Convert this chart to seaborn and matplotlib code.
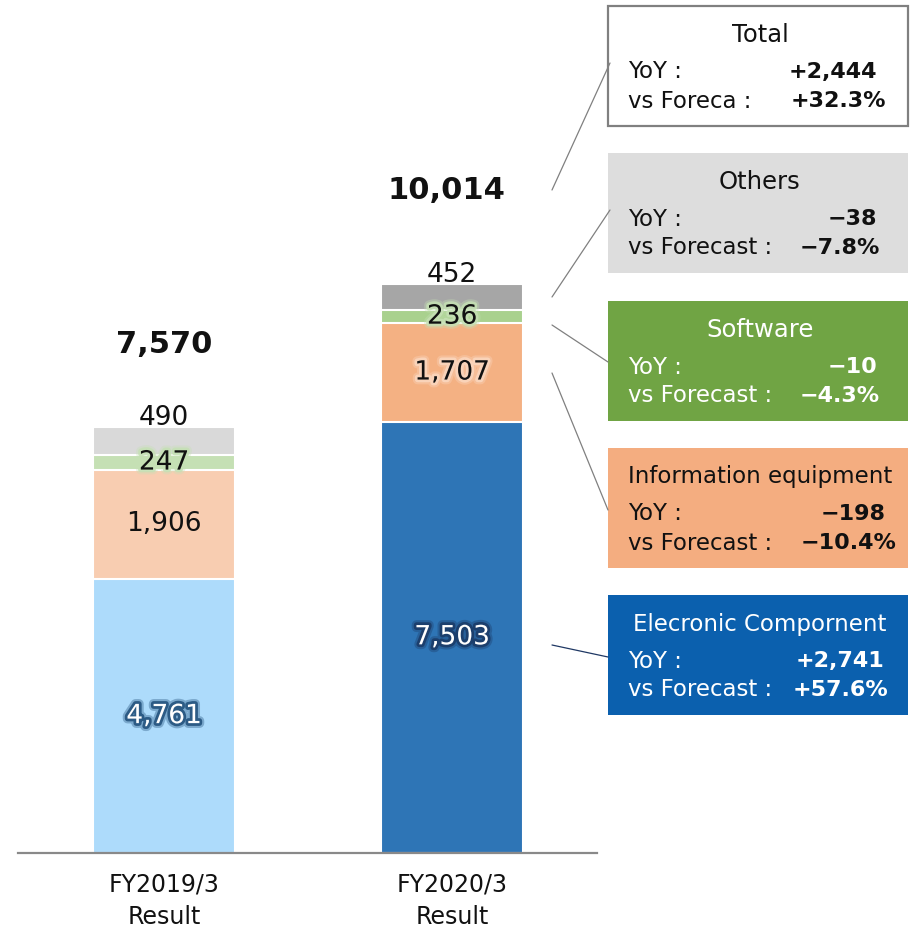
import matplotlib
matplotlib.use("Agg")
import numpy as np
import pandas as pd
import seaborn as sns
import matplotlib.pyplot as plt
from matplotlib import patheffects as pe
from matplotlib.patches import Rectangle

# ---------------- data ----------------
categories = ["FY2019/3\nResult", "FY2020/3\nResult"]
electronic = [4761, 7503]
info_equipment = [1906, 1707]
software = [247, 236]
others = [490, 452]
totals = [7570, 10014]

box_titles = ["Total", "Others", "Software", "Information equipment", "Elecronic Compornent"]
box_yoy = ["+2,444", "\u221238", "\u221210", "\u2212198", "+2,741"]
box_fc_label = ["vs Foreca :", "vs Forecast :", "vs Forecast :", "vs Forecast :", "vs Forecast :"]
box_fc = ["+32.3%", "\u22127.8%", "\u22124.3%", "\u221210.4%", "+57.6%"]

# ---------------- style ----------------
sns.set_theme(style="white")
plt.rcParams["font.family"] = ["DejaVu Sans"]

seg_names = ["Electronic", "Info", "Software", "Others"]
seg_values = [electronic, info_equipment, software, others]
seg_colors = [["#ADDBFB", "#2E75B6"],
              ["#F8CDB1", "#F4B183"],
              ["#C5E0B4", "#A9D18E"],
              ["#D9D9D9", "#A6A6A6"]]
cum = np.cumsum(np.array(seg_values), axis=0)

fig = plt.figure(figsize=(9.1, 9.32), dpi=100)
ax = fig.add_axes([18 / 910, 79 / 932, 579 / 910, 853 / 932])

for k in reversed(range(len(seg_names))):
    df = pd.DataFrame({"cat": categories, "val": cum[k]})
    sns.barplot(data=df, x="cat", y="val", hue="cat", palette=seg_colors[k],
                width=0.493, edgecolor="white", linewidth=1.5, saturation=1,
                legend=False, ax=ax, zorder=2)

ax.set_xlim(-0.507, 1.503)
ax.set_ylim(0, 14835)
for s in ["left", "top", "right"]:
    ax.spines[s].set_visible(False)
ax.spines["bottom"].set_color("#898989")
ax.spines["bottom"].set_linewidth(1.6)
ax.spines["bottom"].set_zorder(5)
ax.set_yticks([])
ax.set_xlabel("")
ax.set_ylabel("")
ax.tick_params(axis="x", length=0, pad=14, labelsize=17, colors="#111111")
for lab in ax.get_xticklabels():
    lab.set_linespacing(1.45)
ax.patch.set_alpha(0)

PX = 72 / 100  # points per pixel


def glow(color):
    return [pe.withStroke(linewidth=7, foreground=color, alpha=0.35),
            pe.withStroke(linewidth=4, foreground=color, alpha=0.85)]


glow_ec = [glow("#1F4E79"), glow("#1B3A66")]
glow_ie = [None, glow("#FAD7C0")]
glow_sw = [glow("#C5E0B4"), glow("#C5E0B4")]
total_offset_px = [83, 93]

for i in range(len(categories)):
    ax.text(i, electronic[i] / 2, f"{electronic[i]:,}", ha="center", va="center",
            fontsize=19, color="white", path_effects=glow_ec[i], zorder=6)
    ax.text(i, cum[0][i] + info_equipment[i] / 2, f"{info_equipment[i]:,}", ha="center",
            va="center", fontsize=19, color="#111111",
            path_effects=glow_ie[i], zorder=6)
    ax.text(i, cum[1][i] + software[i] / 2, f"{software[i]:,}", ha="center", va="center",
            fontsize=19, color="#111111", path_effects=glow_sw[i], zorder=6)
    ax.annotate(f"{others[i]:,}", (i, cum[3][i]), xytext=(0, 9 * PX), textcoords="offset points",
                ha="center", va="center", fontsize=19, color="#111111", zorder=6)
    ax.annotate(f"{totals[i]:,}", (i, cum[3][i]), xytext=(-4 * i, total_offset_px[i] * PX),
                textcoords="offset points", ha="center", va="center", fontsize=22,
                fontweight="bold", color="#111111", zorder=6)

# ---------------- callout boxes (figure pixel overlay) ----------------
ov = fig.add_axes([0, 0, 1, 1], zorder=10)
ov.set_xlim(0, 910)
ov.set_ylim(932, 0)
ov.axis("off")
ov.patch.set_alpha(0)

box_tops = [6, 153, 301, 448, 595]
box_face = ["white", "#DDDDDD", "#70A444", "#F4AD80", "#0B60AE"]
box_edge = ["#808080", "none", "none", "none", "none"]
box_text = ["#111111", "#111111", "white", "#111111", "white"]
title_size = [17.5, 17.5, 17.5, 16.5, 16.5]
yoy_right = [877, 877, 877, 886, 884]
fc_right = [886, 880, 880, 897, 888]

for b in range(5):
    t = box_tops[b]
    ov.add_patch(Rectangle((608, t), 300, 120, facecolor=box_face[b],
                           edgecolor=box_edge[b], linewidth=1.6))
    c = box_text[b]
    ov.text(760, t + 29, box_titles[b], ha="center", va="center", fontsize=title_size[b], color=c)
    ov.text(628, t + 66, "YoY :", ha="left", va="center", fontsize=16.5, color=c)
    ov.text(628, t + 95, box_fc_label[b], ha="left", va="center", fontsize=16.5, color=c)
    ov.text(yoy_right[b], t + 66, box_yoy[b], ha="right", va="center", fontsize=16,
            fontweight="bold", color=c)
    ov.text(fc_right[b], t + 95, box_fc[b], ha="right", va="center", fontsize=16,
            fontweight="bold", color=c)

# connector lines
connectors = [((552, 190), (610, 63), "#808080"),
              ((552, 297), (610, 210), "#808080"),
              ((552, 325), (608, 362), "#808080"),
              ((552, 373), (608, 510), "#808080"),
              ((552, 645), (608, 657), "#1F3864")]
for (x0, y0), (x1, y1), col in connectors:
    ov.plot([x0, x1], [y0, y1], color=col, linewidth=0.9)

fig.savefig("out.png", dpi=100)
